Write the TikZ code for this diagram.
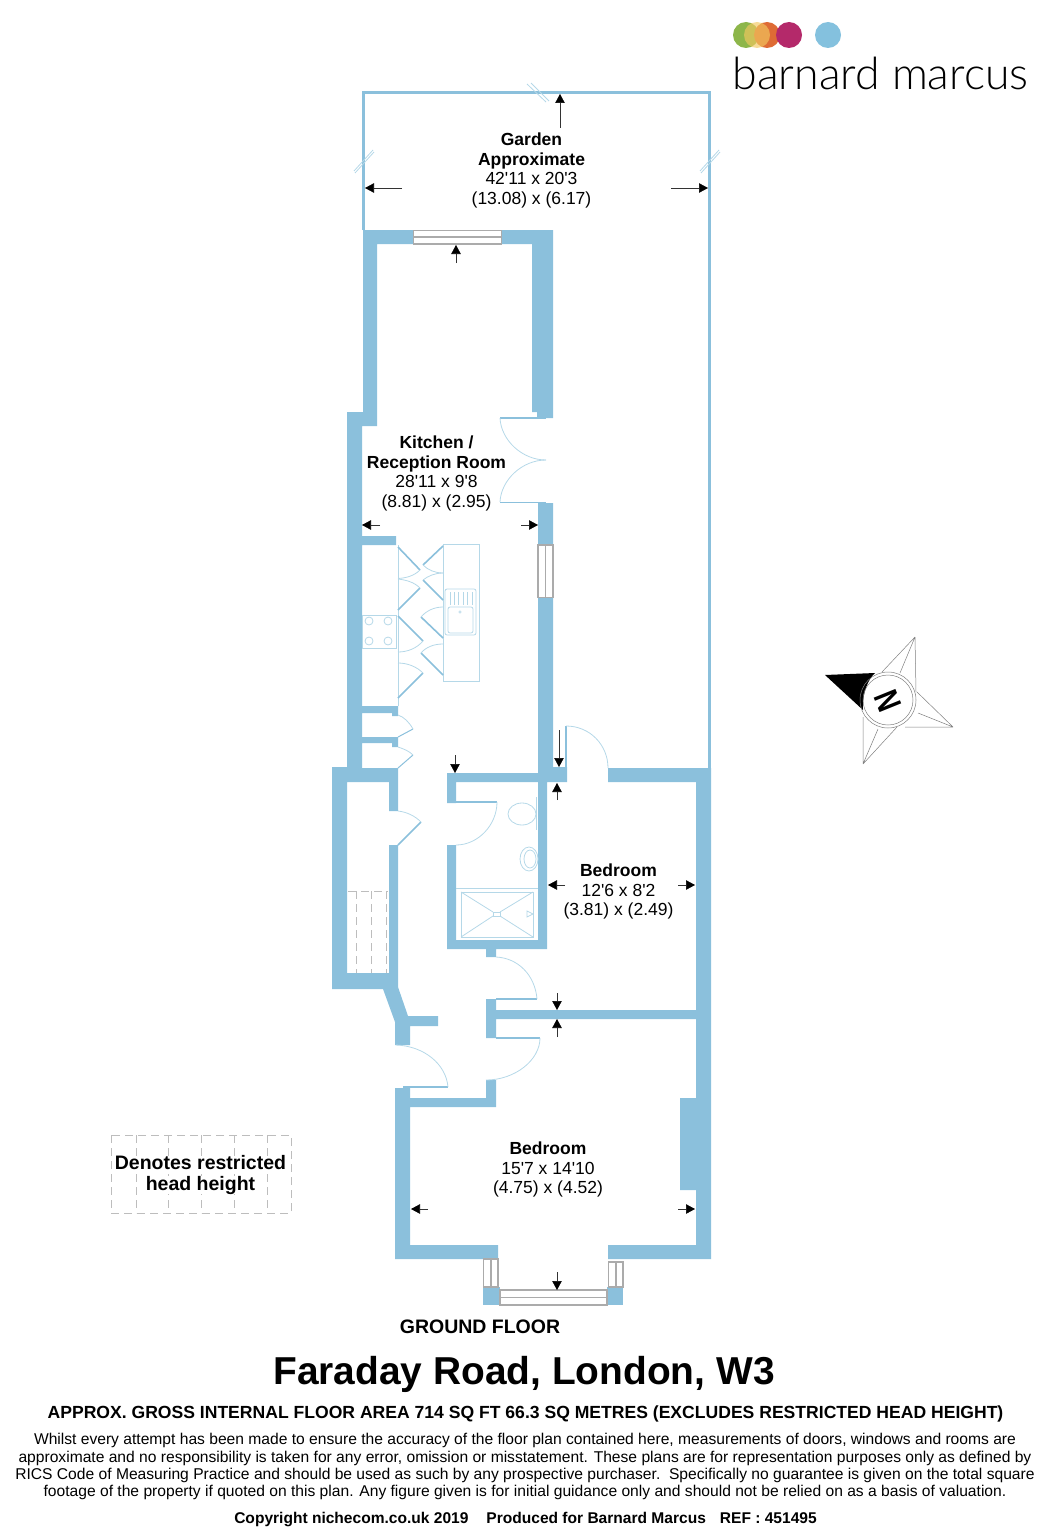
\documentclass[tikz,border=0pt]{standalone}
\usepackage{fontspec}
\setmainfont{Liberation Sans}
\newfontfamily\logofont{Lato Light}
\usetikzlibrary{arrows.meta}
\definecolor{wallc}{HTML}{8BC0DC}
\definecolor{fixc}{HTML}{B5D8E8}
\definecolor{winc}{HTML}{ABABAB}
\definecolor{dashc}{HTML}{BDBDBD}
\definecolor{lgreen}{HTML}{8DB64A}
\definecolor{lyellow}{HTML}{F2C860}
\definecolor{lorange}{HTML}{DE6B35}
\definecolor{lmagenta}{HTML}{B4296A}
\definecolor{lblue}{HTML}{84C1DE}
\newcommand{\qs}{\textquotesingle}
\tikzset{
  wall/.style={fill=wallc,draw=none},
  fixture/.style={draw=fixc,line width=0.8pt,fill=none},
  leaf/.style={draw=wallc,line width=1.6pt},
  swing/.style={draw=fixc,line width=0.8pt},
  win/.style={draw=winc,line width=1.3pt,fill=white},
  dimarrow/.style={draw=black!80,line width=0.6pt,-{Triangle[length=9pt,width=9.5pt,color=black]}},
  dashline/.style={draw=dashc,line width=0.8pt,dash pattern=on 8pt off 5pt},
  room/.style={align=center,inner sep=0pt,font=\fontsize{17.5}{19.6}\selectfont},
  bodyline/.style={inner sep=0pt,font=\fontsize{15.62}{17}\selectfont},
  legendtext/.style={inner xsep=1pt,inner ysep=0pt,fill=white,font=\fontsize{19.5}{22}\selectfont\bfseries},
  star/.style={draw=black!50,line width=0.5pt,line join=round},
}
\begin{document}
\begin{tikzpicture}[x=1pt,y=-1pt]
\useasboundingbox (0,0) rectangle (1053,1536);
% garden boundary
\draw[wallc,line width=3pt] (363.5,230) -- (363.5,92.5) -- (709,92.5) -- (709,768);
\draw[fixture] (527,84) -- (546,102) (531,83) -- (549,101);
\draw[fixture] (354,171) -- (373,150) (355,173) -- (374,152);
\draw[fixture] (700,171) -- (719,150) (701,173) -- (720,152);
% walls
\fill[wall] (363,230) -- (413,230) -- (413,244) -- (377,244) -- (377,426) -- (362,426) -- (362,536) -- (396,536) -- (396,545) -- (362,545)
  -- (362,706) -- (398,706) -- (398,716) -- (392,716) -- (392,713) -- (362,713) -- (362,737) -- (398,737) -- (398,747) -- (392,747) -- (392,743) -- (362,743)
  -- (362,768) -- (392,768) -- (398,768) -- (398,811) -- (389,811) -- (389,782) -- (347,782) -- (347,973) -- (389,973) -- (389,845) -- (398,845)
  -- (398,987) -- (408,1016) -- (438,1016) -- (438,1026) -- (410,1026) -- (410,1045) -- (395,1045) -- (395,1022) -- (383,989) -- (332,989) -- (332,767) -- (347,767) -- (347,412) -- (363,412) -- cycle;
\fill[wall] (502,230) -- (553,230) -- (553,418) -- (537,418) -- (537,412) -- (532,412) -- (532,244) -- (502,244) -- cycle;
\fill[wall] (538,503) -- (553,503) -- (553,767) -- (567,767) -- (567,782) -- (547,782) -- (547,949) -- (496,949) -- (496,957) -- (486,957) -- (486,949) -- (447,949) -- (447,845) -- (456,845) -- (456,940) -- (538,940) -- (538,782) -- (456,782) -- (456,803) -- (447,803) -- (447,773) -- (538,773) -- cycle;
\fill[wall] (608,768) -- (711,768) -- (711,1259) -- (608,1259) -- (608,1245) -- (696,1245) -- (696,1190) -- (680,1190) -- (680,1098) -- (696,1098) -- (696,1019) -- (496,1019) -- (496,1038) -- (486,1038) -- (486,999) -- (496,999) -- (496,1010) -- (696,1010) -- (696,782) -- (608,782) -- cycle;
\fill[wall] (395,1088) -- (403,1088) -- (403,1086) -- (410,1086) -- (410,1098) -- (486,1098) -- (486,1080) -- (496,1080) -- (496,1107) -- (410,1107) -- (410,1245) -- (498,1245) -- (498,1259) -- (395,1259) -- cycle;
\fill[wall] (483,1287) rectangle (500,1305);
\fill[wall] (607,1287) rectangle (623,1305);
% windows
\draw[win] (413.5,230.5) rectangle (501.5,244);
\draw[winc,line width=1.3pt] (413.5,237) -- (501.5,237);
\draw[win] (538,545) rectangle (553,597.5);
\draw[winc,line width=1.3pt] (545.5,545) -- (545.5,597.5);
\draw[win] (483.5,1259) rectangle (498,1287);
\draw[winc,line width=1.3pt] (491,1259) -- (491,1287);
\draw[win] (608.5,1262) rectangle (623,1287);
\draw[winc,line width=1.3pt] (616,1262) -- (616,1287);
\draw[win] (500,1290) rectangle (607,1305);
\draw[winc,line width=1.3pt] (500,1297.5) -- (607,1297.5);
% doors
\draw[leaf] (500,418) -- (546,418);
\draw[leaf] (500,502.5) -- (546,502.5);
\draw[swing] (500,418) .. controls (501,440) and (522,460) .. (546,460);
\draw[swing] (500,502) .. controls (501,480) and (522,460) .. (546,460);
\draw[leaf] (566,767) -- (566,726);
\draw[swing] (566,726) .. controls (590,726) and (608,745) .. (608,768);
\draw[leaf] (456,802) -- (497,802);
\draw[swing] (497,802) .. controls (497,825) and (478,845) .. (456,845);
\draw[leaf] (496,999) -- (537,999);
\draw[swing] (537,999) .. controls (535,975) and (518,958) .. (496,957);
\draw[leaf] (496,1038) -- (540,1038);
\draw[swing] (540,1038) .. controls (540,1060) and (515,1080) .. (486,1080);
\draw[leaf] (403,1087) -- (448,1087);
\draw[swing] (448,1087) .. controls (446,1064) and (424,1046) .. (396,1045);
\draw[leaf] (398,845) -- (421,822);
\draw[swing] (421,822) .. controls (415,816) and (407,812) .. (398,811);
\draw[leaf,line width=1pt] (398,737) -- (413,729);
\draw[swing] (413,729) .. controls (409,722) and (404,717) .. (398,715);
\draw[leaf,line width=1pt] (398,768) -- (413,755);
\draw[swing] (413,755) .. controls (409,751) and (404,749) .. (398,747);
% kitchen units
\draw[fixture] (398,545) -- (398,706);
\draw[fixture] (443,544) rectangle (479,681);
\draw[leaf] (398,547) -- (420,570);
\draw[swing] (420,570) .. controls (414,576) and (406,578) .. (398,578.5);
\draw[leaf] (398,610) -- (420,588);
\draw[swing] (420,588) .. controls (414,582) and (406,580) .. (398,579);
\draw[leaf] (398,616) -- (423,641);
\draw[swing] (423,641) .. controls (417,648) and (408,652) .. (398,652);
\draw[leaf] (398,698) -- (423,673);
\draw[swing] (423,673) .. controls (417,667) and (408,663) .. (398,663);
\draw[leaf] (443,546) -- (423,565);
\draw[swing] (423,565) .. controls (428,570) and (435,573) .. (443,573);
\draw[leaf] (443,600) -- (423,580);
\draw[swing] (423,580) .. controls (428,576) and (435,573) .. (443,573);
\draw[leaf] (443,638) -- (421,617);
\draw[swing] (421,617) .. controls (426,611) and (434,607) .. (443,607);
\draw[leaf] (443,675) -- (421,653);
\draw[swing] (421,653) .. controls (426,647) and (434,644) .. (443,644);
% hob
\draw[fixture] (362,615) rectangle (396,648);
\foreach \cx/\cy in {369/621,388/621,369/641,388/641}{\draw[fixture] (\cx,\cy) circle[radius=4];}
% sink
\draw[fixture,rounded corners=2pt] (445,589) rectangle (476,635);
\draw[fixture,rounded corners=2pt] (448,607) rectangle (473,633);
\foreach \sx in {450,454.4,458.8,463.2,467.6,472}{\draw[fixture] (\sx,592) -- (\sx,605);}
\draw[fixture,line width=0.5pt] (460,612) circle[radius=1.3];
% wc and basin
\draw[fixture] (522,814) ellipse[x radius=14,y radius=11];
\draw[fixture] (536,797) -- (536,830);
\draw[fixture] (529,859) ellipse[x radius=9,y radius=12];
\draw[fixture] (530,859) ellipse[x radius=6,y radius=9];
% shower
\draw[fixture] (456,888) -- (538,888);
\draw[fixture] (461,892) rectangle (533,937);
\draw[fixture] (461,892) -- (493,912) (533,892) -- (500,912) (461,937) -- (493,916) (533,937) -- (500,916);
\draw[fixture] (493,912) rectangle (500,916);
\draw[fixture] (527,911) -- (533,914) -- (527,917) -- cycle;
% restricted head height under stairs
\draw[dashline] (348,891) -- (388,891);
\foreach \dx in {356,371,386}{\draw[dashline] (\dx,891) -- (\dx,973);}
% legend
\draw[dashline] (111,1135) rectangle (291,1213);
\foreach \dx in {136,168,201,234,267}{\draw[dashline] (\dx,1135) -- (\dx,1213);}
\node[legendtext] (legend1) at (200.5,1163) {Denotes restricted};
\node[legendtext] (legend2) at (200.5,1185) {head height};
% dimension arrows
\draw[dimarrow] (560,128) -- (560,94);
\draw[dimarrow] (402,188) -- (365,188);
\draw[dimarrow] (671,188) -- (708,188);
\draw[dimarrow] (456,263) -- (456,245);
\draw[dimarrow] (380,525) -- (362,525);
\draw[dimarrow] (521,525) -- (538,525);
\draw[dimarrow] (455,755) -- (455,773);
\draw[dimarrow] (559,730) -- (559,767);
\draw[dimarrow] (557,800) -- (557,783);
\draw[dimarrow] (565,885) -- (548,885);
\draw[dimarrow] (678,885) -- (695,885);
\draw[dimarrow] (557,993) -- (557,1010);
\draw[dimarrow] (557,1037) -- (557,1019);
\draw[dimarrow] (428,1209) -- (411,1209);
\draw[dimarrow] (678,1209) -- (695,1209);
\draw[dimarrow] (557,1272) -- (557,1290);
% room labels
\node[room] (garden) at (531.5,170.5) {\textbf{Garden}\\\textbf{Approximate}\\42\qs 11 x 20\qs 3\\(13.08) x (6.17)};
\node[room] (kitchen) at (436.5,473.5) {\textbf{Kitchen /}\\\textbf{Reception Room}\\28\qs 11 x 9\qs 8\\(8.81) x (2.95)};
\node[room] (bed1) at (618.5,891.5) {\textbf{Bedroom}\\12\qs 6 x 8\qs 2\\(3.81) x (2.49)};
\node[room] (bed2) at (548,1169.5) {\textbf{Bedroom}\\15\qs 7 x 14\qs 10\\(4.75) x (4.52)};
% compass
\fill[black] (825,675) -- (875,673) .. controls (869,678) and (862,692) .. (863,710) -- cycle;
\draw[star] (915,637) -- (882,672) (915,637) -- (900,673) (915,637) -- (916,692);
\draw[star] (953,727) -- (917,692) (953,727) -- (918,713) (953,727) -- (905,727);
\draw[star] (863,764) -- (863,717) (863,764) -- (878,729) (863,764) -- (897,727);
\draw[draw=black!50,line width=0.5pt] (888,700) circle[radius=28];
\draw[draw=black!50,line width=0.5pt] (888,700) circle[radius=25];
\node[inner sep=0pt,rotate=-68,font=\fontsize{34}{34}\selectfont\bfseries] (north) at (888,701) {\scalebox{.78}[1]{N}};
% logo
\fill[lgreen] (746,35) circle[radius=13];
\fill[lorange] (767,35) circle[radius=13];
\fill[lyellow,opacity=.65] (757,35) circle[radius=13];
\fill[lmagenta] (789,35) circle[radius=13];
\fill[lblue] (828,35) circle[radius=13];
\node[inner sep=0pt,anchor=base west,font=\logofont\fontsize{44.6}{44}\selectfont] (logo) at (732.5,90) {barnard marcus};
% footer
\node[inner sep=0pt,font=\fontsize{19.5}{22}\selectfont\bfseries] (floor) at (480,1327) {GROUND FLOOR};
\node[inner sep=0pt,font=\fontsize{38.9}{42}\selectfont\bfseries] (title) at (524,1374) {Faraday Road, London, W3};
\node[inner sep=0pt,font=\fontsize{17.57}{20}\selectfont\bfseries] (area) at (525.5,1414) {APPROX. GROSS INTERNAL FLOOR AREA 714 SQ FT 66.3 SQ METRES (EXCLUDES RESTRICTED HEAD HEIGHT)};
\node[bodyline] (b1) at (525,1440) {Whilst every attempt has been made to ensure the accuracy of the floor plan contained here, measurements of doors, windows and rooms are};
\node[bodyline] (b2) at (525,1458) {approximate and no responsibility is taken for any error, omission or misstatement. These plans are for representation purposes only as defined by};
\node[bodyline] (b3) at (525,1475) {RICS Code of Measuring Practice and should be used as such by any prospective purchaser.\ \ Specifically no guarantee is given on the total square};
\node[bodyline] (b4) at (525,1492) {footage of the property if quoted on this plan. Any figure given is for initial guidance only and should not be relied on as a basis of valuation.};
\node[inner sep=0pt,font=\fontsize{15.55}{17}\selectfont\bfseries] (copy) at (525.5,1519) {Copyright nichecom.co.uk 2019\hspace{18pt}Produced for Barnard Marcus\hspace{14pt}REF : 451495};
\end{tikzpicture}
\end{document}
